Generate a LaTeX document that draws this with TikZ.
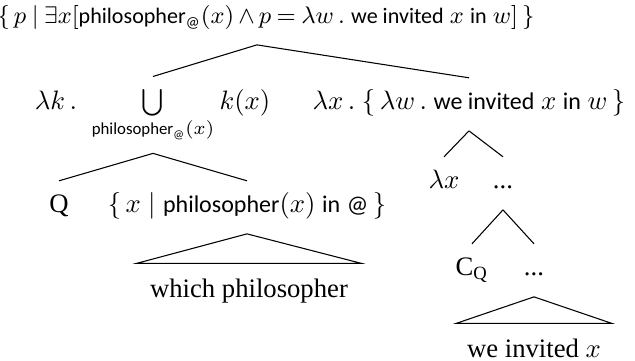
\documentclass[tikz,border=0pt]{standalone}
\usepackage{amsmath}
\usepackage{fontspec}
\setmainfont{Liberation Serif}
\setsansfont[Scale=0.9]{Carlito}

\begin{document}
\begin{tikzpicture}[x=0.375pt, y=-0.375pt,
    lbl/.style={anchor=base, inner sep=0pt, text height=7pt, text depth=2pt},
    roof/.style={lbl, inner xsep=0pt, inner ysep=5.4pt}]
    \useasboundingbox (0,0) rectangle (635,360);
    \node[lbl, font=\fontsize{9.2}{11}\selectfont] (root) at (266,23) {\medmuskip=3mu\thickmuskip=4mu$\{\, p \mid \exists x[\textsf{philosopher}_{\textsf{@}}(x) \wedge p = \lambda w\,.\ \textsf{we invited}\ x\ \textsf{in}\ w]\,\}$};
    \node[lbl] (lamk) at (56,109) {$\lambda k\,.$};
    \node[anchor=base, inner sep=0pt] (union) at (153,109) {$\bigcup\limits_{\textsf{philosopher}_{\textsf{@}}(x)}$};
    \node[lbl] (kx) at (245,109) {$k(x)$};
    \node[lbl] (lamx) at (469,109) {$\lambda x\,.\ \{\,\lambda w\,.\ \textsf{we invited}\ x\ \textsf{in}\ w\,\}$};
    \node[lbl] (q) at (59,212) {Q};
    \node[lbl] (setx) at (247,212) {$\{\, x \mid \textsf{philosopher}(x)\ \textsf{in}\ \textsf{@}\,\}$};
    \node[roof, minimum width=84pt] (wp) at (249,297) {which philosopher};
    \node[lbl] (lamxb) at (444,188) {$\lambda x$};
    \node[lbl] (dotsa) at (503,188) {...};
    \node[lbl] (cq) at (472,275) {C\textsubscript{Q}};
    \node[lbl] (dotsb) at (534,275) {...};
    \node[roof, minimum width=58pt] (wi) at (534,357) {we invited $x$};

    \draw ([xshift=-3.4pt, yshift=-6pt]root.south) -- ([yshift=4.5pt]union.north);
    \draw ([xshift=-3.4pt, yshift=-6pt]root.south) -- ([yshift=4.5pt]lamx.north);
    \draw ([yshift=-4pt]union.south) -- ([yshift=4.5pt]q.north);
    \draw ([yshift=-4pt]union.south) -- ([yshift=4.5pt]setx.north);
    \draw ([yshift=-6pt]setx.south) -- (wp.north east) -- (wp.north west) -- cycle;
    \draw ([yshift=-6pt]lamx.south) -- ([yshift=4.5pt]lamxb.north);
    \draw ([yshift=-6pt]lamx.south) -- ([yshift=4.5pt]dotsa.north);
    \draw ([yshift=-6pt]dotsa.south) -- ([yshift=4.5pt]cq.north);
    \draw ([yshift=-6pt]dotsa.south) -- ([yshift=4.5pt]dotsb.north);
    \draw ([yshift=-6pt]dotsb.south) -- (wi.north east) -- (wi.north west) -- cycle;
\end{tikzpicture}
\end{document}
